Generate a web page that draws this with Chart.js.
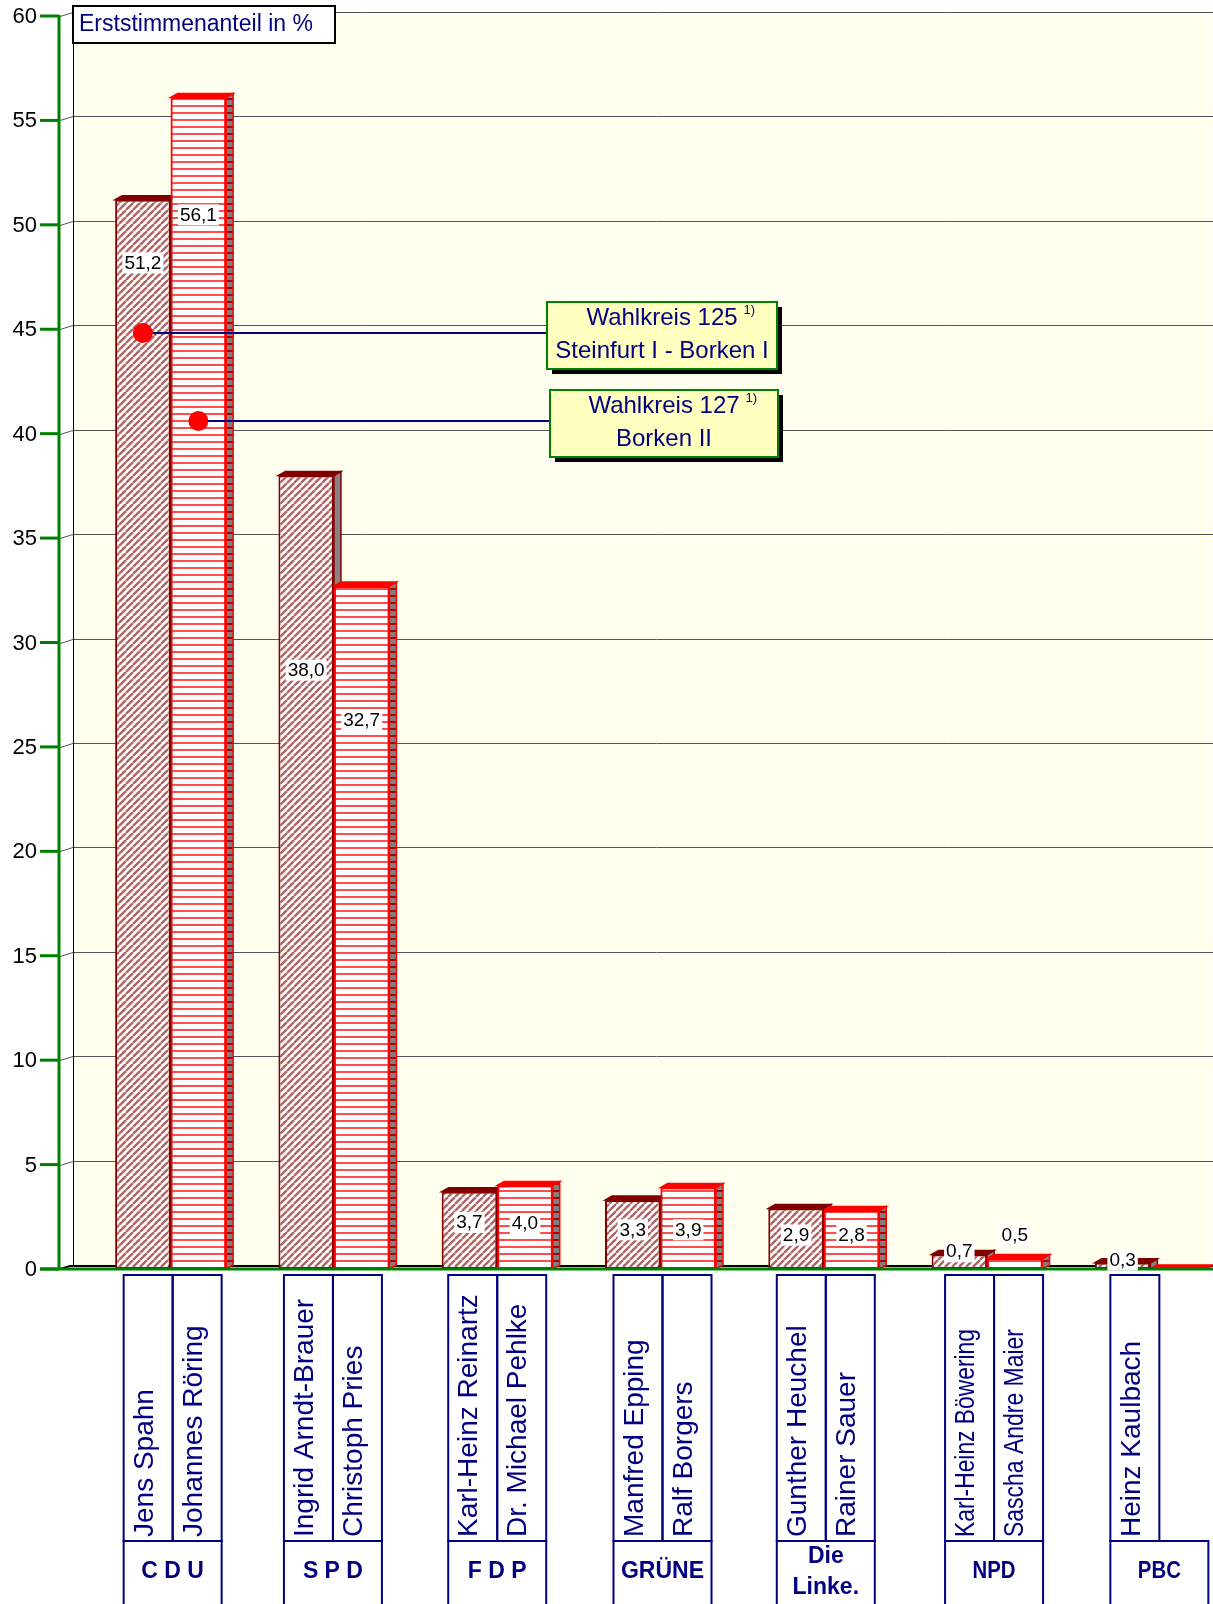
<!DOCTYPE html>
<html>
<head>
<meta charset="utf-8">
<script src="https://cdn.jsdelivr.net/npm/chart.js@4.4.1/dist/chart.umd.min.js"></script>
<style>
  html, body { margin: 0; padding: 0; background: #fff; overflow: hidden; }
  #wrap { position: relative; width: 1240px; height: 1604px; }
</style>
</head>
<body>
<div id="wrap"><canvas id="chart" width="1240" height="1604"></canvas></div>
<script>
const parties = ['C D U', 'S P D', 'F D P', 'GRÜNE', 'Die\nLinke.', 'NPD', 'PBC'];
const candidates125 = ['Jens Spahn', 'Ingrid Arndt-Brauer', 'Karl-Heinz Reinartz', 'Manfred Epping', 'Gunther Heuchel', 'Karl-Heinz Böwering', 'Heinz Kaulbach'];
const candidates127 = ['Johannes Röring', 'Christoph Pries', 'Dr. Michael Pehlke', 'Ralf Borgers', 'Rainer Sauer', 'Sascha Andre Maier', null];
const wk125 = [51.2, 38.0, 3.7, 3.3, 2.9, 0.7, 0.3];
const wk127 = [56.1, 32.7, 4.0, 3.9, 2.8, 0.5, 0];
const seriesNames = ['Wahlkreis 125', 'Wahlkreis 127'];
const seriesPlaces = ['Steinfurt I - Borken I', 'Borken II'];
const yMin = 0, yMax = 60, yStep = 5;
const axisTitle = 'Erststimmenanteil in %';

// where the value labels and the legend dots sit, in % units
const labelAt125 = [48.2, 28.7, 2.25, 1.9, 1.65, 0.85, 0.45];
const labelAt127 = [50.5, 26.3, 2.2, 1.9, 1.65, 1.65, null];
const legendDotAt = [44.8, 40.6];
// the name boxes under the axis are not quite centred on the groups
const boxShift = [2, -1, 0, 2, 2, 7, 9];

const FONT = 'Arial, "Liberation Sans", sans-serif';
const NAVY = '#000080';
const GREEN = '#008000';
const DX = 7, DY = 4; // 3d depth

const ctx = document.getElementById('chart').getContext('2d');

function tile(w, h, draw) {
  const c = document.createElement('canvas');
  c.width = w; c.height = h;
  draw(c.getContext('2d'), w, h);
  return ctx.createPattern(c, 'repeat');
}

const hatch = tile(7, 7, (g, w, h) => {
  g.fillStyle = '#fff'; g.fillRect(0, 0, w, h);
  g.strokeStyle = '#b06464'; g.lineWidth = 2.4;
  for (const o of [-w, 0, w]) {
    g.beginPath(); g.moveTo(o, h); g.lineTo(o + w, 0); g.stroke();
  }
});
const stripes = tile(4, 7, (g, w, h) => {
  g.fillStyle = '#fff'; g.fillRect(0, 0, w, h);
  g.fillStyle = '#ff4d4d'; g.fillRect(0, 0, w, 2);
});
const sideStripes = tile(7, 7, (g, w, h) => {
  g.fillStyle = '#808080'; g.fillRect(0, 0, w, h);
  g.fillStyle = '#b00000'; g.fillRect(0, 0, w, 2);
});
const wallDots = tile(4, 4, (g, w, h) => {
  g.fillStyle = '#fffff6'; g.fillRect(0, 0, w, h);
  g.fillStyle = '#ffffdc'; g.fillRect(0, 0, 2, 2);
});

const wall = {
  id: 'wall',
  beforeDatasetsDraw(chart) {
    const { ctx, width } = chart;
    const y = chart.scales.y;
    const top = y.getPixelForValue(yMax) - DY;
    const floor = y.getPixelForValue(yMin) - 3;
    ctx.save();
    ctx.fillStyle = wallDots;
    ctx.fillRect(73, top, width - 73, floor - top);
    ctx.strokeStyle = '#555'; ctx.lineWidth = 1;
    y.ticks.forEach(t => {
      if (t.value === yMin) return;
      const py = Math.round(y.getPixelForValue(t.value) - DY) + 0.5;
      ctx.beginPath(); ctx.moveTo(60, py + DY); ctx.lineTo(73, py); ctx.lineTo(width, py); ctx.stroke();
    });
    ctx.strokeStyle = '#000';
    ctx.beginPath(); ctx.moveTo(73.5, top); ctx.lineTo(73.5, floor); ctx.stroke();
    ctx.lineWidth = 2;
    ctx.beginPath(); ctx.moveTo(60, floor + 3); ctx.lineTo(70, floor); ctx.lineTo(width, floor); ctx.stroke();
    ctx.restore();
  }
};

function extrude(ctx, bar, sideFill, capFill, edge) {
  const { x, y, base, width } = bar.getProps(['x', 'y', 'base', 'width'], true);
  const l = x - width / 2, r = x + width / 2;
  ctx.strokeStyle = edge; ctx.lineWidth = 1.5;
  ctx.fillStyle = sideFill;
  ctx.beginPath();
  ctx.moveTo(r, y); ctx.lineTo(r + DX, y - DY); ctx.lineTo(r + DX, base - DY); ctx.lineTo(r, base);
  ctx.closePath(); ctx.fill(); ctx.stroke();
  ctx.fillStyle = capFill;
  ctx.beginPath();
  ctx.moveTo(l, y); ctx.lineTo(l + DX, y - DY); ctx.lineTo(r + DX, y - DY); ctx.lineTo(r, y);
  ctx.closePath(); ctx.fill(); ctx.stroke();
}

const bars3d = {
  id: 'bars3d',
  afterDatasetsDraw(chart) {
    const { ctx } = chart;
    ctx.save();
    chart.getDatasetMeta(0).data.forEach(bar => extrude(ctx, bar, '#8c8080', '#800000', '#800000'));
    chart.getDatasetMeta(1).data.forEach(bar => {
      bar.draw(ctx);
      extrude(ctx, bar, sideStripes, '#ff0000', '#ff0000');
    });
    ctx.restore();
  }
};

const decor = {
  id: 'decor',
  afterDraw(chart) {
    const { ctx, width } = chart;
    const x = chart.scales.x, y = chart.scales.y;
    const y0 = y.getPixelForValue(yMin);
    ctx.save();

    // axes with tick labels
    ctx.strokeStyle = GREEN; ctx.lineWidth = 3;
    ctx.beginPath(); ctx.moveTo(59, y.getPixelForValue(yMax) - 1); ctx.lineTo(59, y0 + 1); ctx.stroke();
    ctx.beginPath(); ctx.moveTo(40, y0); ctx.lineTo(width, y0); ctx.stroke();
    ctx.fillStyle = '#000'; ctx.font = `22px ${FONT}`;
    ctx.textAlign = 'right'; ctx.textBaseline = 'middle';
    y.ticks.forEach(t => {
      const py = y.getPixelForValue(t.value);
      ctx.beginPath(); ctx.moveTo(40, py); ctx.lineTo(59, py); ctx.stroke();
      ctx.fillText(String(t.value), 37, py + 1);
    });

    // value labels
    ctx.font = `19px ${FONT}`; ctx.textAlign = 'center'; ctx.textBaseline = 'middle';
    [[0, labelAt125], [1, labelAt127]].forEach(([di, at]) => {
      chart.getDatasetMeta(di).data.forEach((bar, j) => {
        if (at[j] == null) return;
        const txt = chart.data.datasets[di].data[j].toFixed(1).replace('.', ',');
        const py = y.getPixelForValue(at[j]);
        const w = ctx.measureText(txt).width + 4;
        ctx.fillStyle = '#fff'; ctx.fillRect(bar.x - w / 2, py - 10, w, 21);
        ctx.fillStyle = '#000'; ctx.fillText(txt, bar.x, py + 1);
      });
    });

    // legend callouts
    const boxes = [{ x: 547, w: 230 }, { x: 550, w: 228 }];
    [0, 1].forEach(di => {
      const bar = chart.getDatasetMeta(di).data[0];
      const py = Math.round(y.getPixelForValue(legendDotAt[di]));
      const b = boxes[di], top = py - 31, h = 67;
      ctx.strokeStyle = NAVY; ctx.lineWidth = 2;
      ctx.beginPath(); ctx.moveTo(bar.x, py); ctx.lineTo(b.x, py); ctx.stroke();
      ctx.fillStyle = '#ff0000';
      ctx.beginPath(); ctx.arc(bar.x, py, 10, 0, Math.PI * 2); ctx.fill();
      ctx.fillStyle = '#000'; ctx.fillRect(b.x + 5, top + 5, b.w, h);
      ctx.fillStyle = '#ffffc0'; ctx.fillRect(b.x, top, b.w, h);
      ctx.strokeStyle = GREEN; ctx.strokeRect(b.x, top, b.w, h);
      const cx = b.x + b.w / 2;
      ctx.fillStyle = NAVY; ctx.textAlign = 'center'; ctx.textBaseline = 'alphabetic';
      ctx.font = `24px ${FONT}`;
      ctx.fillText(seriesNames[di], cx, top + 23);
      const tw = ctx.measureText(seriesNames[di]).width;
      ctx.fillText(seriesPlaces[di], cx, top + 56);
      ctx.font = `13px ${FONT}`; ctx.textAlign = 'left';
      ctx.fillText('1)', cx + tw / 2 + 6, top + 12);
    });

    // candidate and party boxes
    const nameTop = 1275, nameBottom = 1541;
    parties.forEach((p, i) => {
      const c = x.getPixelForValue(i) + boxShift[i];
      ctx.strokeStyle = NAVY; ctx.lineWidth = 2;
      ctx.strokeRect(c - 49, nameBottom, 98, 90);
      [candidates125[i], candidates127[i]].forEach((name, k) => {
        if (!name) return;
        const bx = c - 49 + 49 * k;
        ctx.strokeRect(bx, nameTop, 49, nameBottom - nameTop);
        ctx.save();
        ctx.translate(bx + 24.5 - 3, nameBottom - 4);
        ctx.rotate(-Math.PI / 2);
        ctx.fillStyle = NAVY; ctx.font = `28px ${FONT}`;
        ctx.textAlign = 'left'; ctx.textBaseline = 'middle';
        ctx.fillText(name, 0, 0, p === 'NPD' ? 208 : 250);
        ctx.restore();
      });
      ctx.fillStyle = NAVY; ctx.textAlign = 'center'; ctx.textBaseline = 'middle';
      ctx.font = `bold 23px ${FONT}`;
      const lines = p.split('\n');
      if (lines.length === 2) {
        ctx.fillText(lines[0], c, 1557);
        ctx.fillText(lines[1], c, 1588);
      } else {
        ctx.fillText(p, c, 1572, p.length === 3 ? 43 : 200);
      }
    });

    // axis title box
    ctx.fillStyle = '#fff'; ctx.fillRect(73, 6, 262, 37);
    ctx.strokeStyle = '#000'; ctx.lineWidth = 2; ctx.strokeRect(73, 6, 262, 37);
    ctx.fillStyle = NAVY; ctx.font = `23px ${FONT}`;
    ctx.textAlign = 'left'; ctx.textBaseline = 'alphabetic';
    ctx.fillText(axisTitle, 79, 31, 252);

    ctx.restore();
  }
};

const yTicks = [];
for (let v = yMin; v <= yMax; v += yStep) yTicks.push(v);

new Chart(ctx, {
  type: 'bar',
  data: {
    labels: parties,
    datasets: [
      { label: seriesNames[0], data: wk125, backgroundColor: hatch, borderColor: '#800000', borderWidth: 2, borderSkipped: false },
      { label: seriesNames[1], data: wk127, backgroundColor: stripes, borderColor: '#ff0000', borderWidth: 2, borderSkipped: false }
    ]
  },
  options: {
    responsive: false,
    animation: false,
    events: [],
    layout: { padding: { left: 0, right: 8, top: 16, bottom: 335 } },
    datasets: { bar: { categoryPercentage: 0.68, barPercentage: 1 } },
    plugins: { legend: { display: false }, tooltip: { enabled: false } },
    scales: {
      x: { display: false },
      y: {
        min: yMin, max: yMax,
        afterBuildTicks: s => { s.ticks = yTicks.map(v => ({ value: v })); },
        afterFit: s => { s.width = 89; },
        grid: { display: false },
        border: { display: false },
        ticks: { display: false }
      }
    }
  },
  plugins: [wall, bars3d, decor]
});
</script>
</body>
</html>
